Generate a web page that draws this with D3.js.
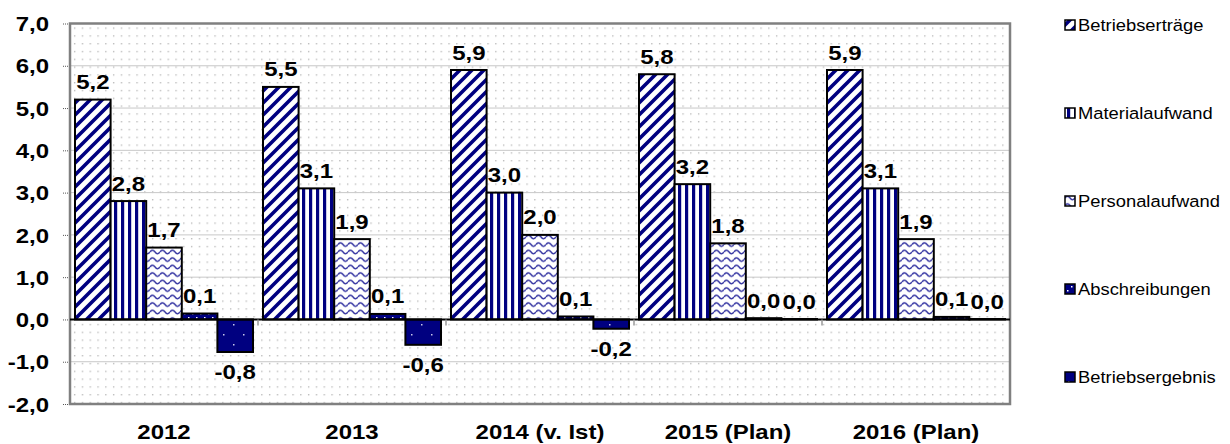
<!DOCTYPE html>
<html>
<head>
<meta charset="utf-8">
<script src="https://cdn.jsdelivr.net/npm/d3@7"></script>
<style>
  body { margin: 0; background: #fff; }
  text { font-family: "Liberation Sans", Arial, sans-serif; }
</style>
</head>
<body>
<div class="container"></div>
<script>
// Kategorien und Reihen
var categories = ["2012", "2013", "2014 (v. Ist)", "2015 (Plan)", "2016 (Plan)"];
var seriesNames = ["Betriebserträge", "Materialaufwand", "Personalaufwand", "Abschreibungen", "Betriebsergebnis"];
var betriebsertraege = [5.2, 5.5, 5.9, 5.8, 5.9];
var materialaufwand = [2.8, 3.1, 3.0, 3.2, 3.1];
var personalaufwand = [1.7, 1.9, 2.0, 1.8, 1.9];
var abschreibungen = [0.14, 0.13, 0.07, 0.03, 0.06];
var betriebsergebnis = [-0.77, -0.6, -0.22, 0.01, 0.01];
var yTicks = [-2, -1, 0, 1, 2, 3, 4, 5, 6, 7];

var seriesValues = [betriebsertraege, materialaufwand, personalaufwand, abschreibungen, betriebsergebnis];
var patternIds = ["p-diag", "p-vert", "p-wave", "p-dots", "p-navy"];

var w = 1230, h = 444;
var pLeft = 70, pRight = 1010, pTop = 23.5, pBottom = 404;
var navy = "#000080";
var stretch = "scale(1.2,1)"; // Schrift wirkt im Original breiter

var svg = d3.select(".container").append("svg")
  .attr("width", w).attr("height", h);

var defs = svg.append("defs");

// Hintergrund-Punkte
var bg = defs.append("pattern").attr("id", "p-bg")
  .attr("patternUnits", "userSpaceOnUse").attr("width", 7.8).attr("height", 7.8)
  .attr("x", pLeft + 2).attr("y", pTop + 2);
bg.append("rect").attr("width", 7.8).attr("height", 7.8).attr("fill", "#fff");
bg.append("rect").attr("x", 2).attr("y", 2).attr("width", 1.3).attr("height", 1.3).attr("fill", "#b4b4b4");

// diagonale Streifen
var p1 = defs.append("pattern").attr("id", "p-diag")
  .attr("patternUnits", "userSpaceOnUse").attr("width", 12).attr("height", 12);
p1.append("rect").attr("width", 12).attr("height", 12).attr("fill", "#fff");
p1.append("path").attr("d", "M-1,13 L13,-1 M-4,4 L4,-4 M8,16 L16,8")
  .attr("stroke", navy).attr("stroke-width", 3.6);

// senkrechte Streifen
var p2 = defs.append("pattern").attr("id", "p-vert")
  .attr("patternUnits", "userSpaceOnUse").attr("width", 7).attr("height", 7);
p2.append("rect").attr("width", 7).attr("height", 7).attr("fill", "#fff");
p2.append("rect").attr("x", 2).attr("width", 3.2).attr("height", 7).attr("fill", navy);

// Wellen
var p3 = defs.append("pattern").attr("id", "p-wave")
  .attr("patternUnits", "userSpaceOnUse").attr("width", 10).attr("height", 7.5);
p3.append("rect").attr("width", 10).attr("height", 7.5).attr("fill", "#fff");
p3.append("path").attr("d", "M0,4.5 Q2.5,1 5,4.5 T10,4.5")
  .attr("fill", "none").attr("stroke", "#3030a0").attr("stroke-width", 1.4);

// dunkel mit Punkten
var p4 = defs.append("pattern").attr("id", "p-dots")
  .attr("patternUnits", "userSpaceOnUse").attr("width", 8).attr("height", 8);
p4.append("rect").attr("width", 8).attr("height", 8).attr("fill", navy);
p4.append("rect").attr("x", 2).attr("y", 1).attr("width", 1.5).attr("height", 1.5).attr("fill", "#fff");
p4.append("rect").attr("x", 6).attr("y", 5).attr("width", 1.5).attr("height", 1.5).attr("fill", "#fff");

var p5 = defs.append("pattern").attr("id", "p-navy")
  .attr("patternUnits", "userSpaceOnUse").attr("width", 20).attr("height", 20);
p5.append("rect").attr("width", 20).attr("height", 20).attr("fill", navy);
p5.append("rect").attr("x", 3).attr("y", 4).attr("width", 1.5).attr("height", 1.5).attr("fill", "#c8c8e8");
p5.append("rect").attr("x", 13).attr("y", 14).attr("width", 1.5).attr("height", 1.5).attr("fill", "#c8c8e8");

// Skalen
var y = d3.scaleLinear().domain([-2, 7]).range([pBottom, pTop]);
var x0 = d3.scaleBand().domain(categories).range([pLeft, pRight]).padding(0);
var x1 = d3.scaleBand().domain(seriesNames)
  .range([5, x0.bandwidth() - 5]).padding(0);

var fmt = function (v) { return d3.format(".1f")(v).replace(".", ",").replace("−", "-"); };

// Plotfläche
svg.append("rect")
  .attr("x", pLeft).attr("y", pTop)
  .attr("width", pRight - pLeft).attr("height", pBottom - pTop)
  .attr("fill", "url(#p-bg)");

// Gitterlinien
svg.append("g").selectAll("line")
  .data(yTicks.filter(function (d) { return d !== 0 && d !== 7 && d !== -2; }))
  .enter().append("line")
  .attr("x1", pLeft).attr("x2", pRight)
  .attr("y1", function (d) { return y(d); }).attr("y2", function (d) { return y(d); })
  .attr("stroke", "#c8c8c8").attr("stroke-width", 1);

// y-Achse
var yAxis = d3.axisLeft(y).tickValues(yTicks).tickSize(8).tickFormat(fmt);
var ya = svg.append("g").attr("transform", "translate(" + pLeft + ",0)").call(yAxis);
ya.select(".domain").remove();
ya.selectAll(".tick line").attr("stroke", "#555").attr("stroke-dasharray", "1,1");
ya.selectAll(".tick text")
  .attr("x", null)
  .attr("transform", "translate(-21,0) " + stretch)
  .attr("dy", "0.36em")
  .style("font-size", "20px").style("font-weight", "bold").attr("fill", "#000");

// Rahmen
svg.append("rect")
  .attr("x", pLeft).attr("y", pTop)
  .attr("width", pRight - pLeft).attr("height", pBottom - pTop)
  .attr("fill", "none").attr("stroke", "#808080").attr("stroke-width", 2.5);

// Balken
var groups = svg.append("g").selectAll("g")
  .data(categories).enter().append("g")
  .attr("transform", function (d) { return "translate(" + x0(d) + ",0)"; });

var rows = function (c, i) {
  return seriesNames.map(function (s, j) { return { s: s, j: j, v: seriesValues[j][i] }; });
};

groups.selectAll("rect")
  .data(rows)
  .enter().append("rect")
  .attr("x", function (d) { return x1(d.s); })
  .attr("width", x1.bandwidth())
  .attr("y", function (d) { return y(Math.max(0, d.v)); })
  .attr("height", function (d) { return Math.abs(y(d.v) - y(0)); })
  .attr("fill", function (d) { return "url(#" + patternIds[d.j] + ")"; })
  .attr("stroke", "#000").attr("stroke-width", 2);

groups.selectAll("text")
  .data(rows)
  .enter().append("text")
  .attr("transform", function (d) {
    var tx = x1(d.s) + x1.bandwidth() / 2;
    var ty = d.v < 0 ? y(d.v) + 27 : y(d.v) - 10.5;
    return "translate(" + tx + "," + ty + ") " + stretch;
  })
  .attr("text-anchor", "middle")
  .style("font-size", "20px").style("font-weight", "bold")
  .text(function (d) { return fmt(d.v); });

// Nulllinie und Kategorie-Ticks
svg.append("line")
  .attr("x1", pLeft).attr("x2", pRight)
  .attr("y1", y(0)).attr("y2", y(0))
  .attr("stroke", "#000").attr("stroke-width", 2);

svg.append("g").selectAll("line")
  .data(categories.slice(1)).enter().append("line")
  .attr("x1", function (d) { return x0(d); }).attr("x2", function (d) { return x0(d); })
  .attr("y1", y(0)).attr("y2", y(0) + 6)
  .attr("stroke", "#999").attr("stroke-width", 1.5);

// Kategorie-Beschriftung
svg.append("g").selectAll("text")
  .data(categories).enter().append("text")
  .attr("transform", function (d) {
    return "translate(" + (x0(d) + x0.bandwidth() / 2) + ",439) " + stretch;
  })
  .attr("text-anchor", "middle")
  .style("font-size", "20px").style("font-weight", "bold")
  .text(function (d) { return d; });

// Legende
var legend = svg.append("g").selectAll("g")
  .data(seriesNames).enter().append("g")
  .attr("transform", function (d, i) { return "translate(1065," + (25 + i * 88) + ")"; });

legend.append("rect")
  .attr("x", 0).attr("y", -5).attr("width", 10).attr("height", 10)
  .attr("fill", function (d, i) { return "url(#" + patternIds[i] + ")"; })
  .attr("stroke", "#000").attr("stroke-width", 1.5);

legend.append("text")
  .attr("transform", "translate(13,0) scale(1.08,1)")
  .attr("dy", "0.36em")
  .style("font-size", "17px")
  .text(function (d) { return d; });
</script>
</body>
</html>
